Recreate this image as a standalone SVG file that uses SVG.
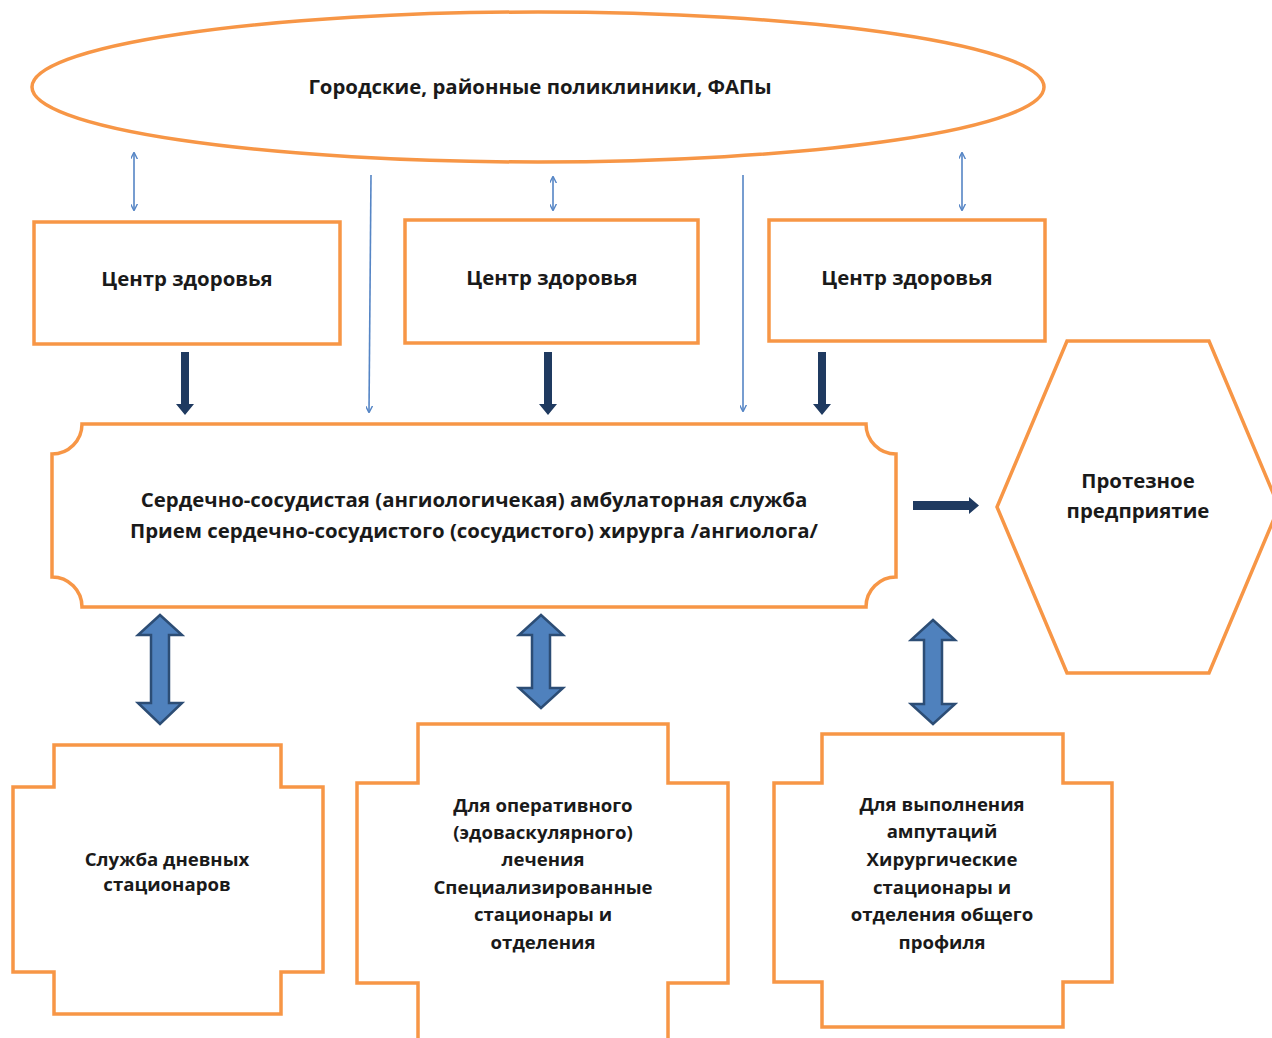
<svg xmlns="http://www.w3.org/2000/svg" width="1272" height="1038" viewBox="0 0 1272 1038">
<defs>
<style>
.shape{fill:#fff;stroke:#F79646;stroke-width:3.5}
.t{font-family:"Open Sans","DejaVu Sans",sans-serif;font-weight:bold;font-size:20.4px;fill:#1a1a1a;text-anchor:middle}
.s{font-size:18.6px}
.thin{stroke:#5585C5;stroke-width:1.6;fill:none}
.dark{fill:#1F3A60}
.big{fill:#4F81BD;stroke:#2C4D75;stroke-width:2.5}
</style>
<marker id="ah" viewBox="0 0 10 10" refX="9" refY="5" markerWidth="7" markerHeight="7" markerUnits="userSpaceOnUse" orient="auto-start-reverse"><path d="M0,0 L10,5 L0,10" fill="none" stroke="#5585C5" stroke-width="2"/></marker>
</defs>
<rect width="1272" height="1038" fill="#fff"/>
<g id="polyclinics">
<ellipse class="shape" cx="538" cy="87" rx="506" ry="75"/>
<text class="t" x="540" y="94">Городские, районные поликлиники, ФАПы</text>
</g>
<g id="center1">
<rect class="shape" x="34" y="222" width="306" height="122"/>
<text class="t" x="187" y="286">Центр здоровья</text>
</g>
<g id="center2">
<rect class="shape" x="405" y="220" width="293" height="123"/>
<text class="t" x="552" y="285">Центр здоровья</text>
</g>
<g id="center3">
<rect class="shape" x="769" y="220" width="276" height="121"/>
<text class="t" x="907" y="285">Центр здоровья</text>
</g>
<g id="ambulatory">
<path class="shape" d="M82 424 H866 A30 30 0 0 0 896 454 V577 A30 30 0 0 0 866 607 H82 A30 30 0 0 0 52 577 V454 A30 30 0 0 0 82 424 Z"/>
<text class="t" x="474" y="507">Сердечно-сосудистая (ангиологичекая) амбулаторная служба</text>
<text class="t" x="474" y="538">Прием сердечно-сосудистого (сосудистого) хирурга /ангиолога/</text>
</g>
<g id="prosthetic">
<polygon class="shape" points="1067,341 1209,341 1279,507 1209,673 1067,673 997,507"/>
<text class="t" x="1138" y="488">Протезное</text>
<text class="t" x="1138" y="518">предприятие</text>
</g>
<g id="dayhospital">
<polygon class="shape" points="54,745 281,745 281,787 323,787 323,972 281,972 281,1014 54,1014 54,972 13,972 13,787 54,787"/>
<text class="t s" x="167" y="866">Служба дневных</text>
<text class="t s" x="167" y="891">стационаров</text>
</g>
<g id="specialized">
<polygon class="shape" points="418,724 668,724 668,783 728,783 728,983 668,983 668,1045 418,1045 418,983 357,983 357,783 418,783"/>
<text class="t s" x="543" y="812">Для оперативного</text>
<text class="t s" x="543" y="839">(эдоваскулярного)</text>
<text class="t s" x="543" y="866">лечения</text>
<text class="t s" x="543" y="894">Специализированные</text>
<text class="t s" x="543" y="921">стационары и</text>
<text class="t s" x="543" y="949">отделения</text>
</g>
<g id="general">
<polygon class="shape" points="822,734 1063,734 1063,783 1112,783 1112,982 1063,982 1063,1027 822,1027 822,982 774,982 774,783 822,783"/>
<text class="t s" x="942" y="811">Для выполнения</text>
<text class="t s" x="942" y="838">ампутаций</text>
<text class="t s" x="942" y="866">Хирургические</text>
<text class="t s" x="942" y="894">стационары и</text>
<text class="t s" x="942" y="921">отделения общего</text>
<text class="t s" x="942" y="949">профиля</text>
</g>
<g id="connectors">
<line class="thin" x1="134" y1="153" x2="134" y2="210" marker-start="url(#ah)" marker-end="url(#ah)"/>
<line class="thin" x1="553" y1="177" x2="553" y2="210" marker-start="url(#ah)" marker-end="url(#ah)"/>
<line class="thin" x1="962" y1="153" x2="962" y2="210" marker-start="url(#ah)" marker-end="url(#ah)"/>
<line class="thin" x1="371" y1="175" x2="369" y2="412" marker-end="url(#ah)"/>
<line class="thin" x1="743" y1="175" x2="743" y2="411" marker-end="url(#ah)"/>
<polygon class="dark" points="181,352 189,352 189,404 194,404 185,415 176,404 181,404"/>
<polygon class="dark" points="544,352 552,352 552,404 557,404 548,415 539,404 544,404"/>
<polygon class="dark" points="818,352 826,352 826,404 831,404 822,415 813,404 818,404"/>
<polygon class="dark" points="913,501 969,501 969,497 979,505.5 969,514 969,510 913,510"/>
<polygon class="big" points="160,615 182,635 169,635 169,703 182,703 160,724 138,703 151,703 151,635 138,635"/>
<polygon class="big" points="541,615 563,635 550,635 550,688 563,688 541,708 519,688 532,688 532,635 519,635"/>
<polygon class="big" points="933,620 955,640 942,640 942,704 955,704 933,724 911,704 924,704 924,640 911,640"/>
</g>
</svg>
